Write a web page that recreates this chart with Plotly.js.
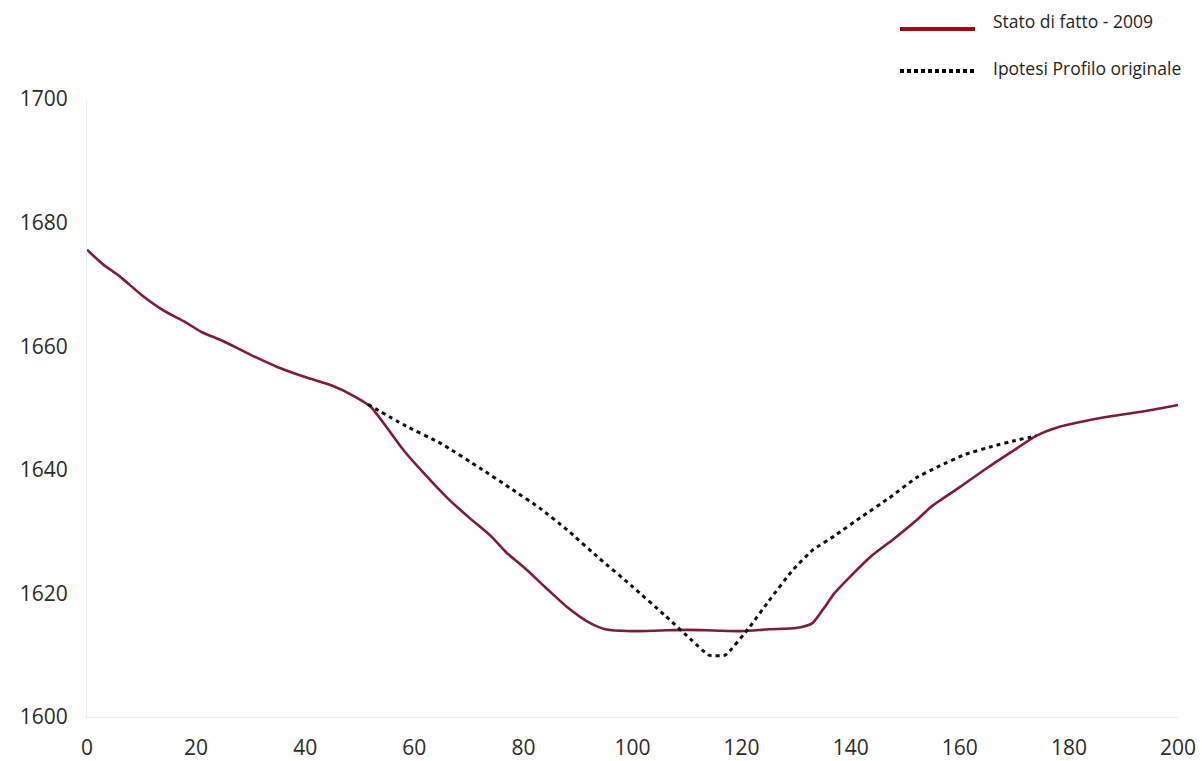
<!DOCTYPE html>
<html><head><meta charset="utf-8">
<script src="https://cdn.plot.ly/plotly-3.0.1.min.js"></script>
<style>html,body{margin:0;padding:0;background:#fff;}#chart{width:1202px;height:761px;}</style>
</head><body><div id="chart"></div>
<script>
// Stato di fatto - 2009
const statoX = [0,3,6,10,14,18,21,25,30,35,40,45,49,52,55,58,62,66,70,74,77,80,84,88,92,95,100,105,110,115,120,125,130,133,135,137,140,144,148,152,155,160,165,170,174,178,183,188,194,200];
const statoY = [1675.6,1673.2,1671.3,1668.3,1665.8,1663.9,1662.3,1660.8,1658.6,1656.6,1655.0,1653.6,1651.9,1650.2,1646.8,1643.2,1639.2,1635.5,1632.3,1629.3,1626.5,1624.3,1621.0,1617.8,1615.3,1614.2,1613.9,1614.0,1614.1,1614.0,1613.9,1614.2,1614.4,1615.2,1617.5,1620.0,1622.8,1626.2,1628.9,1631.8,1634.2,1637.2,1640.3,1643.2,1645.5,1646.9,1647.9,1648.7,1649.5,1650.5];
// Ipotesi Profilo originale
const ipotesiX = [51.5,58,65,72,78,83,88,94,100,106,111,114,117,121.5,125,129.4,133,137,142,147,152,156,161,166,170,174];
const ipotesiY = [1650.6,1647.3,1644.2,1640.3,1636.8,1633.8,1630.3,1625.6,1621.1,1616.4,1612.3,1610.0,1610.0,1614.6,1618.8,1623.8,1627.0,1629.3,1632.4,1635.4,1638.7,1640.5,1642.5,1643.8,1644.7,1645.5];
const seriesNames = ["Stato di fatto - 2009", "Ipotesi Profilo originale"];
const xTicks = [0,20,40,60,80,100,120,140,160,180,200];
const yTicks = [1600,1620,1640,1660,1680,1700];

const L = 87, R = 24, T = 99, B = 44, W = 1202, H = 761;
const pw = W - L - R, ph = H - T - B;
const px = p => (p - L) / pw;
const py = p => (H - B - p) / ph;

const traces = [
  {x: statoX, y: statoY, mode: 'lines', name: seriesNames[0], showlegend: false,
   line: {color: '#7e1a3c', width: 2.6, shape: 'spline', smoothing: 0.6}},
  {x: ipotesiX, y: ipotesiY, mode: 'lines', name: seriesNames[1], showlegend: false,
   line: {color: '#111111', width: 3, dash: '4px,4px', shape: 'spline', smoothing: 0.4}}
];

const txtFont = {family: 'Open Sans, sans-serif', size: 17.5, color: '#1f1f1f'};
const tickFont = {family: 'Open Sans, sans-serif', size: 21, color: '#2b2b2b'};
const layout = {
  width: W, height: H,
  margin: {l: L, r: R, t: T, b: B},
  paper_bgcolor: '#ffffff', plot_bgcolor: '#ffffff',
  showlegend: false,
  xaxis: {range: [0, 200], tickvals: xTicks, ticktext: xTicks.map(String), showgrid: false, zeroline: false,
    showline: true, linecolor: '#ececec', linewidth: 1, ticks: '', ticklabelstandoff: 12,
    tickfont: tickFont},
  yaxis: {range: [1600, 1700], tickvals: yTicks, ticktext: yTicks.map(String), showgrid: false, zeroline: false,
    showline: true, linecolor: '#efefef', linewidth: 1, ticks: '', ticklabelstandoff: 14,
    tickfont: tickFont},
  shapes: [
    {type: 'line', xref: 'paper', yref: 'paper', x0: px(900), x1: px(975), y0: py(29), y1: py(29),
     line: {color: '#a00a10', width: 4}},
    {type: 'line', xref: 'paper', yref: 'paper', x0: px(900), x1: px(975), y0: py(71), y1: py(71),
     line: {color: '#000000', width: 4, dash: '4px,3px'}}
  ],
  annotations: [
    {xref: 'paper', yref: 'paper', x: px(991), y: py(21), xanchor: 'left', yanchor: 'middle', showarrow: false,
     text: seriesNames[0], font: txtFont},
    {xref: 'paper', yref: 'paper', x: px(991), y: py(68), xanchor: 'left', yanchor: 'middle', showarrow: false,
     text: seriesNames[1], font: txtFont}
  ]
};
Plotly.newPlot('chart', traces, layout, {displayModeBar: false, staticPlot: true});
</script></body></html>
